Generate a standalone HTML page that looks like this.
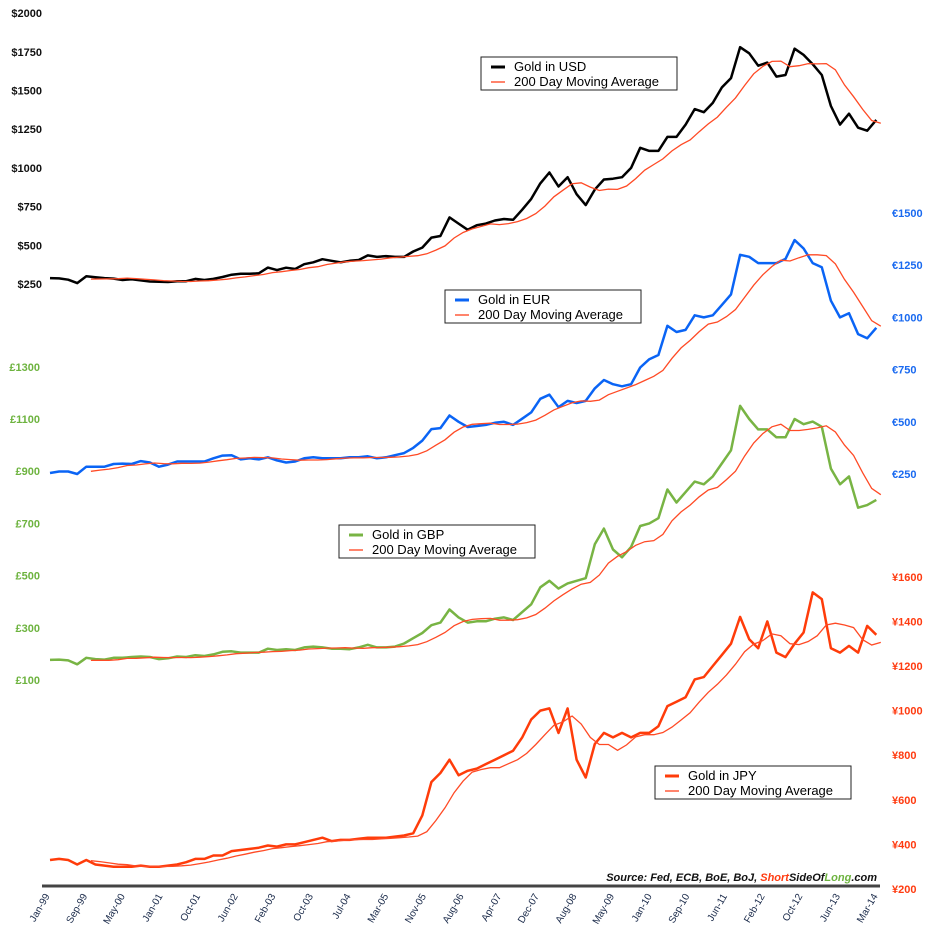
<!DOCTYPE html>
<html><head><meta charset="utf-8">
<style>
html,body{margin:0;padding:0;background:#fff;}
svg{display:block;font-family:"Liberation Sans","DejaVu Sans",sans-serif;}
</style></head>
<body>
<svg id="chart" width="931" height="936" viewBox="0 0 931 936" xmlns="http://www.w3.org/2000/svg">
  <g id="axes"></g>
  <g id="series"></g>
  <g id="legends"></g>
  <text x="877" y="881" text-anchor="end" font-size="11" font-style="italic" font-weight="bold" fill="#111">Source: Fed, ECB, BoE, BoJ, <tspan fill="#ff3b10">Short</tspan>SideOf<tspan fill="#6db33f">Long</tspan>.com</text>
</svg>
<script>
// bi-monthly samples Jan-99 .. Mar-14
const usd = [288,286,278,256,300,293, 288,285,276,281,273,266, 265,263,268,268,283,276, 283,295,310,316,316,319,
 356,340,355,347,378,390, 410,400,390,400,405,435, 425,430,425,425,460,485, 550,560,680,640,600,630,
 640,660,670,665,730,800, 900,970,880,940,830,760, 860,925,930,940,1000,1130, 1110,1110,1200,1200,1280,1380,
 1360,1420,1520,1580,1780,1740, 1660,1680,1590,1600,1770,1730, 1670,1600,1400,1280,1350,1260, 1240,1310];
const eur = [255,262,262,250,285,285, 285,298,300,298,312,305, 285,295,310,310,310,310, 325,338,340,320,325,320,
 330,315,305,310,325,330, 325,325,325,330,330,335, 325,330,340,350,375,410, 465,470,530,500,475,480,
 485,495,500,485,515,545, 610,630,570,600,590,600, 660,700,680,670,680,760, 800,820,960,930,940,1010,
 1000,1010,1060,1110,1300,1290, 1260,1260,1260,1280,1370,1330, 1260,1240,1080,1000,1020,920, 900,950];
const gbp = [177,178,175,160,185,180, 178,185,185,188,190,188, 180,183,190,188,195,192, 198,208,210,205,205,205,
 220,215,218,215,225,228, 225,220,220,218,225,235, 225,225,228,240,260,280, 310,320,370,340,320,325,
 325,335,340,330,360,390, 455,480,450,470,480,490, 620,680,600,570,610,690, 700,720,830,780,820,860,
 850,880,930,980,1150,1100, 1060,1060,1030,1030,1100,1080, 1090,1070,910,850,880,760, 770,790];
const jpy = [330,335,330,310,330,310, 305,300,300,300,305,300, 300,305,310,320,335,335, 350,350,370,375,380,385,
 395,390,400,400,410,420, 430,415,420,420,425,430, 430,430,435,440,450,530, 680,720,780,710,730,740,
 760,780,800,820,880,960, 1000,1010,900,1010,780,700, 850,900,880,900,880,900, 900,930,1020,1040,1060,1140,
 1150,1200,1250,1300,1420,1320, 1280,1400,1260,1240,1300,1350, 1530,1500,1280,1260,1290,1260, 1380,1340];
const xLabels = ["Jan-99","Sep-99","May-00","Jan-01","Oct-01","Jun-02","Feb-03","Oct-03","Jul-04","Mar-05","Nov-05","Aug-06","Apr-07","Dec-07","Aug-08","May-09","Jan-10","Sep-10","Jun-11","Feb-12","Oct-12","Jun-13","Mar-14"];
const usdTicks = [250,500,750,1000,1250,1500,1750,2000];
const eurTicks = [250,500,750,1000,1250,1500];
const gbpTicks = [100,300,500,700,900,1100,1300];
const jpyTicks = [200,400,600,800,1000,1200,1400,1600];

const NS="http://www.w3.org/2000/svg";
function mk(tag,attrs,parent){const e=document.createElementNS(NS,tag);for(const k in attrs)e.setAttribute(k,attrs[k]);parent.appendChild(e);return e;}
const xS = i => 50 + i*9.08;           // bi-monthly index -> px
const yUSD = v => 284 - (v-250)/250*38.7;
const yEUR = v => 474 - (v-250)/250*52.2;
const yGBP = v => 680 - (v-100)/200*52.2;
const yJPY = v => 889 - (v-200)/200*44.6;

const axes=document.getElementById('axes'), ser=document.getElementById('series'), leg=document.getElementById('legends');

function ticks(arr,yf,x,anchor,color,prefix,name){
  arr.forEach(v=>{
    const t=mk('text',{x:x,y:yf(v)+4,'text-anchor':anchor,'font-size':11,'font-weight':'bold',fill:color},axes);
    
    
    t.textContent=prefix+v;
  });
}
ticks(usdTicks,yUSD,42,'end','#111','$','usd-axis');
ticks(eurTicks,yEUR,892,'start','#1a6af0','€','eur-axis');
ticks(gbpTicks,yGBP,40,'end','#6db33f','£','gbp-axis');
ticks(jpyTicks,yJPY,892,'start','#ff3b10','¥','jpy-axis');

const axl=mk('line',{x1:42,y1:886,x2:880,y2:886,stroke:'#444','stroke-width':3},axes);


xLabels.forEach((l,i)=>{
  const x=50+i*(828/(xLabels.length-1));
  const t=mk('text',{x:x,y:896,'text-anchor':'end','font-size':10,fill:'#1a2a4a',transform:`rotate(-60 ${x} 896)`},axes);
  
  
  t.textContent=l;
});

function ma(arr){const out=[];for(let i=4;i<arr.length;i++){let s=0;for(let j=i-4;j<=i;j++)s+=arr[j];out.push([i,s/5]);}return out;}
function draw(arr,yf,color,w,name){
  const p=arr.map((v,i)=>(i?'L':'M')+xS(i).toFixed(1)+','+yf(v).toFixed(1)).join('');
  const e=mk('path',{d:p,fill:'none',stroke:color,'stroke-width':w,'stroke-linejoin':'round'},ser);
  
  
  const m=ma(arr);
  const p2=m.map((q,k)=>(k?'L':'M')+xS(q[0]+0.5).toFixed(1)+','+yf(q[1]).toFixed(1)).join('');
  const e2=mk('path',{d:p2,fill:'none',stroke:'#ff4a25','stroke-width':1.3},ser);
  
  
}
draw(usd,yUSD,'#000',2.5,'usd');
draw(eur,yEUR,'#0a64f5',2.5,'eur');
draw(gbp,yGBP,'#78b444',2.5,'gbp');
draw(jpy,yJPY,'#ff3c0a',2.5,'jpy');

function legend(x,y,label,color,name){
  const g=mk('g',{},leg);
  
  
  mk('rect',{x:x,y:y,width:196,height:33,fill:'#fff',stroke:'#222','stroke-width':1},g);
  mk('line',{x1:x+10,y1:y+10,x2:x+24,y2:y+10,stroke:color,'stroke-width':3},g);
  mk('line',{x1:x+10,y1:y+25,x2:x+24,y2:y+25,stroke:'#ff5a3a','stroke-width':1.5},g);
  const t1=mk('text',{x:x+33,y:y+14,'font-size':13,fill:'#000'},g);t1.textContent=label;
  const t2=mk('text',{x:x+33,y:y+29,'font-size':13,fill:'#000'},g);t2.textContent='200 Day Moving Average';
}
legend(481,57,'Gold in USD','#000','usd');
legend(445,290,'Gold in EUR','#0a64f5','eur');
legend(339,525,'Gold in GBP','#78b444','gbp');
legend(655,766,'Gold in JPY','#ff3c0a','jpy');
</script>
</body></html>
